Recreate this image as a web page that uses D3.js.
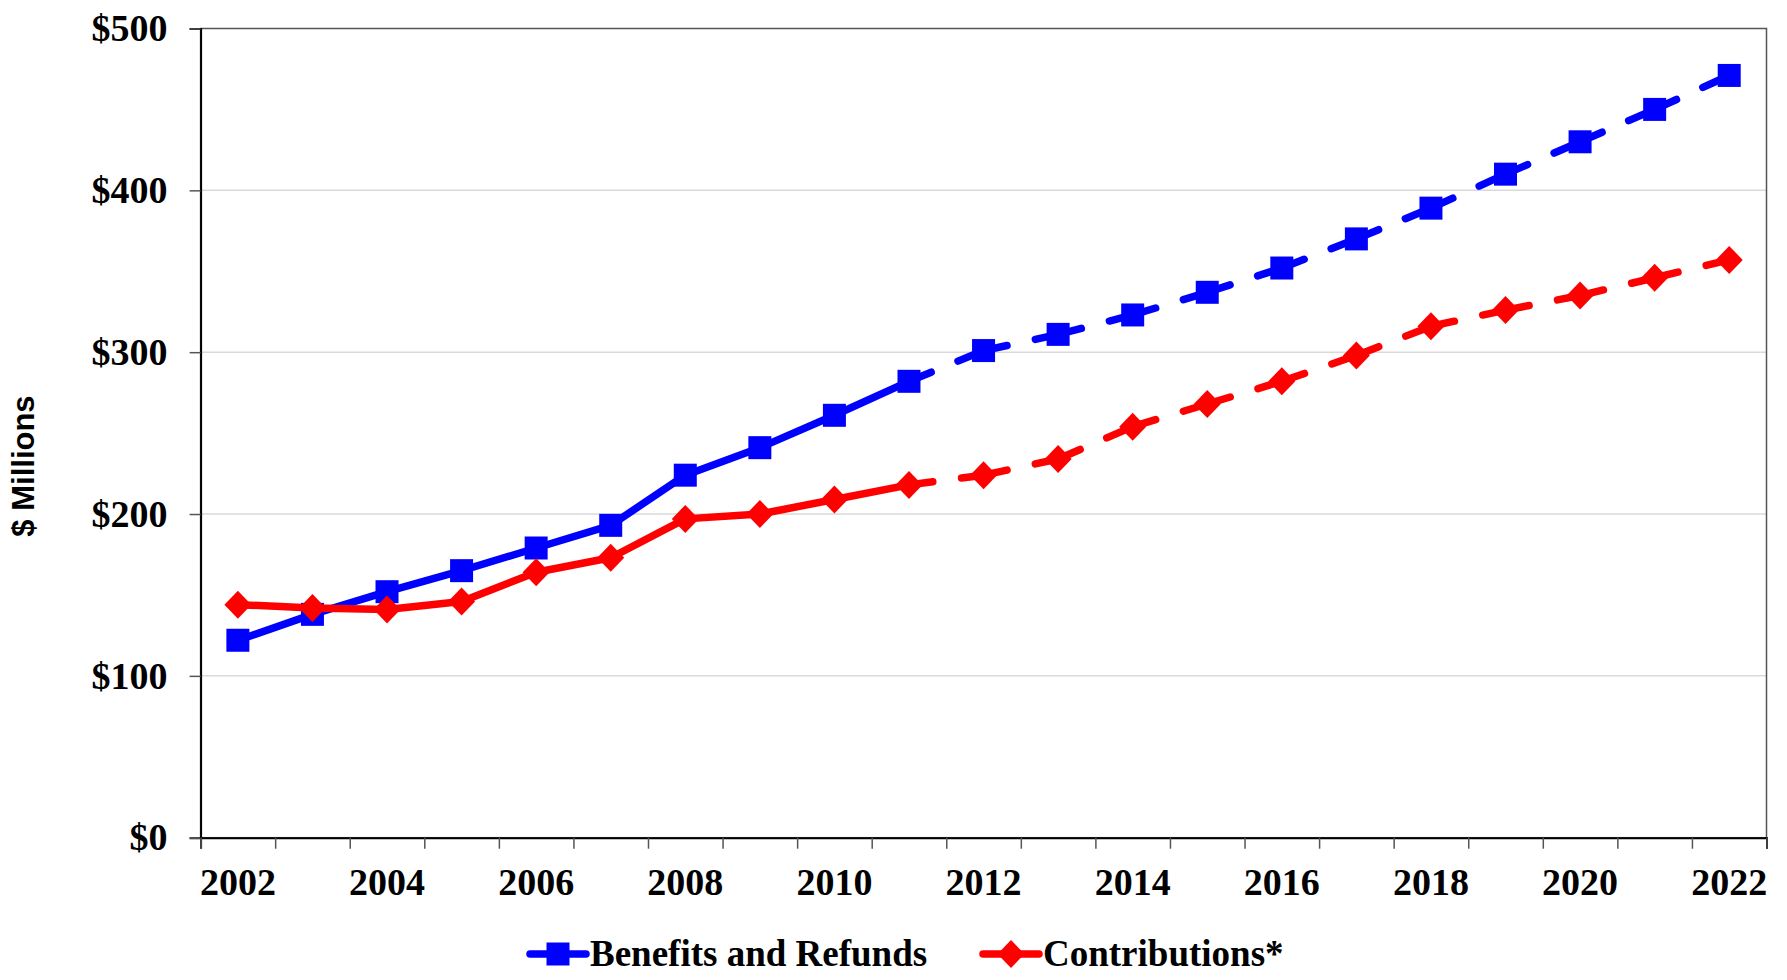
<!DOCTYPE html>
<html>
<head>
<meta charset="utf-8">
<script src="https://cdn.jsdelivr.net/npm/d3@7"></script>
<style>
  html, body { margin: 0; padding: 0; background: #ffffff; }
  svg { display: block; }
</style>
</head>
<body>
<svg id="chart" width="1787" height="980"></svg>
<script>
// Fiscal years shown on the category axis
const categories = ["2002", "2003", "2004", "2005", "2006", "2007", "2008", "2009", "2010", "2011",
                    "2012", "2013", "2014", "2015", "2016", "2017", "2018", "2019", "2020", "2021", "2022"];
// Annual totals, $ millions
const benefitsAndRefunds = [122, 138, 152, 165, 179, 193, 224, 241, 261, 282,
                            301, 311, 323, 337, 352, 370, 389, 410, 430, 450, 471];
const contributions = [144, 142, 141, 146, 164, 173, 197, 200, 209, 218,
                       224, 234, 254, 268, 282, 298, 316, 326, 335, 346, 357];
// Years labelled under the axis
const xTickLabels = ["2002", "2004", "2006", "2008", "2010", "2012", "2014", "2016", "2018", "2020", "2022"];
// Value axis ticks
const yTicks = [0, 100, 200, 300, 400, 500];
// Last actual year; later years are projections drawn dashed
const lastActualYear = "2011";

const seriesList = [
  { name: "Benefits and Refunds", values: benefitsAndRefunds, color: "#0000ff", marker: "square" },
  { name: "Contributions*", values: contributions, color: "#ff0000", marker: "diamond" }
];

const W = 1787, H = 980;
const margin = { top: 28.5, right: 20.5, bottom: 142.3, left: 200.6 };
const innerW = W - margin.left - margin.right;
const innerH = H - margin.top - margin.bottom;

const serif = "'Liberation Serif', 'Times New Roman', serif";
const sans = "'Liberation Sans', Arial, sans-serif";
const lineWidth = 7.5;

const svg = d3.select("#chart");
const g = svg.append("g").attr("transform", `translate(${margin.left},${margin.top})`);

const x = d3.scaleBand().domain(categories).range([0, innerW]);
const xEdges = d3.scaleLinear().domain([0, categories.length]).range([0, innerW]);
const y = d3.scaleLinear().domain([0, 500]).range([innerH, 0]);
const cx = c => x(c) + x.bandwidth() / 2;

// Horizontal gridlines
g.append("g")
  .selectAll("line")
  .data(yTicks.filter(v => v > 0 && v < 500))
  .join("line")
  .attr("x1", 0).attr("x2", innerW)
  .attr("y1", d => y(d)).attr("y2", d => y(d))
  .attr("stroke", "#d9d9d9").attr("stroke-width", 1.5);

// Plot area frame
g.append("rect")
  .attr("x", 0).attr("y", 0).attr("width", innerW).attr("height", innerH)
  .attr("fill", "none").attr("stroke", "#555555").attr("stroke-width", 1.5);

// Y axis
const yAxis = g.append("g")
  .call(d3.axisLeft(y).tickValues(yTicks).tickSize(11).tickPadding(22)
    .tickFormat(d => "$" + d));
yAxis.select(".domain").attr("stroke", "#000").attr("stroke-width", 2);
yAxis.selectAll(".tick line").attr("stroke", "#555").attr("stroke-width", 1.5);
yAxis.selectAll(".tick text")
  .attr("font-family", serif).attr("font-weight", "bold").attr("font-size", 38)
  .attr("fill", "#000");

// X axis: tick marks at category boundaries
const xTickAxis = g.append("g")
  .attr("transform", `translate(0,${innerH})`)
  .call(d3.axisBottom(xEdges).tickValues(d3.range(0, categories.length + 1))
    .tickSize(11).tickFormat(""));
xTickAxis.select(".domain").attr("stroke", "#000").attr("stroke-width", 2);
xTickAxis.selectAll(".tick line").attr("stroke", "#555").attr("stroke-width", 1.5);

// X axis: year labels centred on categories
const xLabelAxis = g.append("g")
  .attr("transform", `translate(0,${innerH})`)
  .call(d3.axisBottom(x).tickValues(xTickLabels).tickSize(0).tickPadding(30));
xLabelAxis.select(".domain").remove();
xLabelAxis.selectAll(".tick text")
  .attr("font-family", serif).attr("font-weight", "bold").attr("font-size", 38)
  .attr("fill", "#000");

// Axis title
svg.append("text")
  .attr("transform", `translate(34,466) rotate(-90)`)
  .attr("text-anchor", "middle")
  .attr("font-family", sans).attr("font-weight", "bold").attr("font-size", 31)
  .attr("fill", "#000")
  .text("$ Millions");

const markerPath = {
  square: "M-11.5,-11.5H11.5V11.5H-11.5Z",
  diamond: "M0,-14L13.5,0L0,14L-13.5,0Z"
};

const line = d3.line().x(d => cx(d.year)).y(d => y(d.value));
const splitIndex = categories.indexOf(lastActualYear);

seriesList.forEach(s => {
  const pts = categories.map((c, i) => ({ year: c, value: s.values[i] }));
  const sg = g.append("g");

  // Actual years: one solid line
  sg.append("path")
    .datum(pts.slice(0, splitIndex + 1))
    .attr("d", line)
    .attr("fill", "none").attr("stroke", s.color).attr("stroke-width", lineWidth)
    .attr("stroke-linejoin", "round").attr("stroke-linecap", "round");

  // Projected years: each segment dashed on its own
  const proj = pts.slice(splitIndex);
  sg.selectAll("path.proj")
    .data(d3.pairs(proj))
    .join("path")
    .attr("class", "proj")
    .attr("d", d => line(d))
    .attr("fill", "none").attr("stroke", s.color).attr("stroke-width", lineWidth)
    .attr("stroke-linecap", "round")
    .attr("stroke-dasharray", "24,29");

  sg.selectAll("path.marker")
    .data(pts)
    .join("path")
    .attr("class", "marker")
    .attr("transform", d => `translate(${cx(d.year)},${y(d.value)})`)
    .attr("d", markerPath[s.marker])
    .attr("fill", s.color);
});

// Legend
const legendItems = [
  { series: seriesList[0], x: 530 },
  { series: seriesList[1], x: 983 }
];
const legendY = 954;
const lg = svg.append("g");
legendItems.forEach(item => {
  const s = item.series;
  const ig = lg.append("g").attr("transform", `translate(${item.x},${legendY})`);
  ig.append("line")
    .attr("x1", 0).attr("x2", 56).attr("y1", 0).attr("y2", 0)
    .attr("stroke", s.color).attr("stroke-width", lineWidth).attr("stroke-linecap", "round");
  ig.append("path")
    .attr("transform", "translate(28,0)")
    .attr("d", markerPath[s.marker])
    .attr("fill", s.color);
  ig.append("text")
    .attr("x", 60).attr("y", 12)
    .attr("font-family", serif).attr("font-weight", "bold").attr("font-size", 37)
    .attr("fill", "#000")
    .text(s.name);
});
</script>
</body>
</html>
